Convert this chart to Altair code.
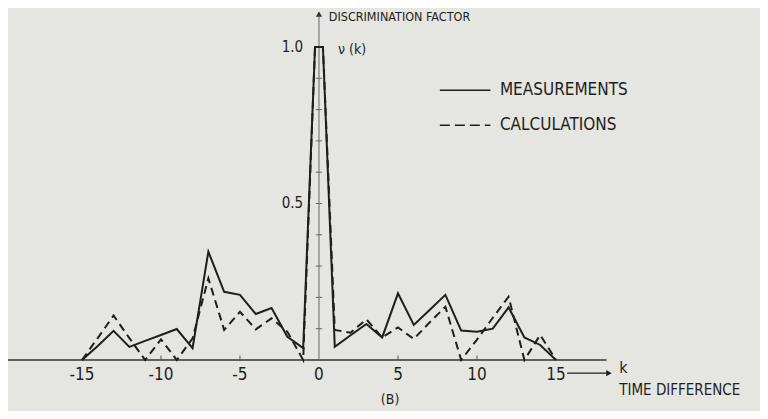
import altair as alt
import pandas as pd

# ---- data ----
k_values = [-15, -14, -13, -12, -11, -10, -9, -8, -7, -6, -5, -4, -3, -2, -1,
            -0.25, 0.25, 1, 2, 3, 4, 5, 6, 7, 8, 9, 10, 11, 12, 13, 14, 15]
measurements = [0.0, 0.045, 0.093, 0.042, 0.061, 0.08, 0.099, 0.038, 0.346, 0.218,
                0.208, 0.147, 0.166, 0.074, 0.038, 1.0, 1.0, 0.042, 0.079, 0.115,
                0.072, 0.213, 0.112, 0.16, 0.208, 0.094, 0.09, 0.1, 0.168, 0.072,
                0.048, 0.0]
calculations = [0.0, 0.07, 0.142, 0.07, 0.0, 0.066, 0.0, 0.069, 0.261, 0.096,
                0.154, 0.098, 0.133, 0.09, 0.0, 1.0, 1.0, 0.096, 0.087, 0.13,
                0.072, 0.104, 0.067, 0.12, 0.17, 0.0, 0.065, 0.135, 0.202, 0.0,
                0.08, 0.0]

x_tick_values = [-15, -10, -5, 0, 5, 10, 15]
x_tick_labels = ["-15", "-10", "-5", "0", "5", "10", "15"]
y_tick_values = [0.1, 0.2, 0.3, 0.4, 0.5, 0.6, 0.7, 0.8, 0.9]
y_label_values = [1.0, 0.5]
y_label_texts = ["1.0", "0.5"]

FONT = "DejaVu Sans Condensed, Liberation Sans Narrow, Roboto Condensed, DejaVu Sans, sans-serif"
BG = "#e5e6e1"
INK = "#1e1e1e"

# page x 8..760 -> k -19.68..27.91 ; page y 8..411 -> value 1.1246..-0.163
xs = alt.Scale(domain=[-19.68, 27.91], nice=False, zero=False)
ys = alt.Scale(domain=[-0.163, 1.1246], nice=False, zero=False)


def X(field="x"):
    return alt.X(f"{field}:Q", scale=xs, axis=None)


def Y(field="y"):
    return alt.Y(f"{field}:Q", scale=ys, axis=None)


meas_df = pd.DataFrame({"x": k_values, "y": measurements})
calc_df = pd.DataFrame({"x": k_values, "y": calculations})

meas_line = alt.Chart(meas_df).mark_line(color=INK, strokeWidth=2).encode(x=X(), y=Y())
calc_line = alt.Chart(calc_df).mark_line(color=INK, strokeWidth=2, strokeDash=[8, 5]).encode(x=X(), y=Y())

# axes drawn as in the figure
base_df = pd.DataFrame({"x": [-19.68], "x2": [18.2], "y": [0.0]})
baseline = alt.Chart(base_df).mark_rule(color="#333333", strokeWidth=1.3).encode(
    x=X(), x2="x2:Q", y=Y())

yaxis_df = pd.DataFrame({"x": [0.0], "y": [0.0], "y2": [1.11]})
yaxis = alt.Chart(yaxis_df).mark_rule(color="#666666", strokeWidth=1).encode(
    x=X(), y=Y(), y2="y2:Q")
yarrow = alt.Chart(pd.DataFrame({"x": [0.0], "y": [1.105]})).mark_point(
    shape="triangle-up", size=40, filled=True, color="#333333", opacity=1).encode(x=X(), y=Y())

ytick_df = pd.DataFrame({"x": [-0.2] * len(y_tick_values), "x2": [0.2] * len(y_tick_values),
                         "y": y_tick_values})
yticks = alt.Chart(ytick_df).mark_rule(color="#666666", strokeWidth=1).encode(
    x=X(), x2="x2:Q", y=Y())

xt = [v for v in x_tick_values if v not in (-15, 0, 15)]
xtick_df = pd.DataFrame({"x": xt, "y": [0.0] * len(xt), "y2": [0.014] * len(xt)})
xticks = alt.Chart(xtick_df).mark_rule(color="#555555", strokeWidth=1).encode(
    x=X(), y=Y(), y2="y2:Q")

xlab_df = pd.DataFrame({"x": x_tick_values, "y": [-0.047] * len(x_tick_values),
                        "t": x_tick_labels})
xlabels = alt.Chart(xlab_df).mark_text(font=FONT, fontSize=17, color=INK,
                                       align="center", baseline="middle").encode(
    x=X(), y=Y(), text="t:N")

ylab_df = pd.DataFrame({"x": [-1.0, -1.0], "y": y_label_values, "t": y_label_texts})
ylabels = alt.Chart(ylab_df).mark_text(font=FONT, fontSize=15, color=INK,
                                       align="right", baseline="middle").encode(
    x=X(), y=Y(), text="t:N")

# annotations
left_texts = pd.DataFrame({
    "x": [0.62, 1.2, 11.45, 11.45, 19.0, 19.0],
    "y": [1.097, 0.992, 0.862, 0.75, -0.027, -0.097],
    "t": ["DISCRIMINATION FACTOR", "\u03bd (k)", "MEASUREMENTS", "CALCULATIONS", "k",
          "TIME DIFFERENCE"],
    "s": [12.5, 14, 17, 17, 16, 15],
})
annot = alt.Chart(left_texts).mark_text(font=FONT, color=INK, align="left",
                                        baseline="middle").encode(
    x=X(), y=Y(), text="t:N", size=alt.Size("s:Q", scale=None, legend=None))

blabel = alt.Chart(pd.DataFrame({"x": [4.5], "y": [-0.128], "t": ["(B)"]})).mark_text(
    font=FONT, fontSize=14, color=INK, align="center", baseline="middle").encode(
    x=X(), y=Y(), text="t:N")

# legend lines
leg_solid = alt.Chart(pd.DataFrame({"x": [7.65], "x2": [10.85], "y": [0.862]})).mark_rule(
    color=INK, strokeWidth=1.6).encode(x=X(), x2="x2:Q", y=Y())
leg_dash = alt.Chart(pd.DataFrame({"x": [7.65], "x2": [10.85], "y": [0.75]})).mark_rule(
    color=INK, strokeWidth=1.6, strokeDash=[10, 5]).encode(x=X(), x2="x2:Q", y=Y())

# arrow for k axis
karrow = alt.Chart(pd.DataFrame({"x": [15.7], "x2": [18.2], "y": [-0.042]})).mark_rule(
    color=INK, strokeWidth=1.2).encode(x=X(), x2="x2:Q", y=Y())
karrowhead = alt.Chart(pd.DataFrame({"x": [18.35], "y": [-0.042]})).mark_point(
    shape="triangle-right", size=40, filled=True, color=INK, opacity=1).encode(x=X(), y=Y())

chart = alt.layer(
    baseline, yaxis, yticks, xticks, yarrow,
    calc_line, meas_line,
    xlabels, ylabels, annot, blabel,
    leg_solid, leg_dash, karrow, karrowhead,
).properties(
    width=752, height=403,
    autosize=alt.AutoSizeParams(type="none"),
    padding=0,
    background=BG,
).configure_view(stroke=None)

chart.save("out.html", embed_options={"renderer": "svg", "actions": False})
